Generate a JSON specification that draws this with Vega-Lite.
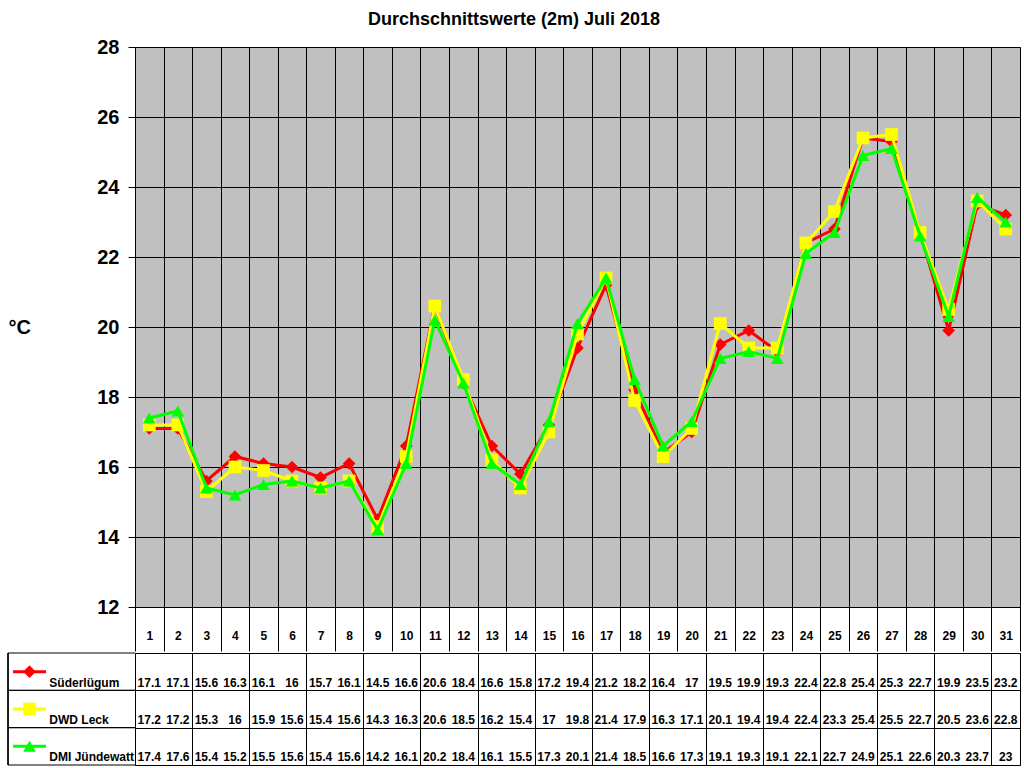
{
  "$schema": "https://vega.github.io/schema/vega-lite/v6.json",
  "padding": {"left": 7, "top": 10, "right": 5, "bottom": 0},
  "background": "white",
  "config": {"font": "Liberation Sans"},
  "title": {"text": "Durchschnittswerte (2m) Juli 2018", "anchor": "middle", "fontSize": 18, "fontWeight": "bold", "color": "black", "offset": 8},
  "spacing": 0,
  "datasets": {
    "temps": [
      {"day":1,"series":"Süderlügum","temp":17.1},{"day":2,"series":"Süderlügum","temp":17.1},{"day":3,"series":"Süderlügum","temp":15.6},{"day":4,"series":"Süderlügum","temp":16.3},{"day":5,"series":"Süderlügum","temp":16.1},{"day":6,"series":"Süderlügum","temp":16},{"day":7,"series":"Süderlügum","temp":15.7},{"day":8,"series":"Süderlügum","temp":16.1},{"day":9,"series":"Süderlügum","temp":14.5},{"day":10,"series":"Süderlügum","temp":16.6},{"day":11,"series":"Süderlügum","temp":20.6},{"day":12,"series":"Süderlügum","temp":18.4},{"day":13,"series":"Süderlügum","temp":16.6},{"day":14,"series":"Süderlügum","temp":15.8},{"day":15,"series":"Süderlügum","temp":17.2},{"day":16,"series":"Süderlügum","temp":19.4},{"day":17,"series":"Süderlügum","temp":21.2},{"day":18,"series":"Süderlügum","temp":18.2},{"day":19,"series":"Süderlügum","temp":16.4},{"day":20,"series":"Süderlügum","temp":17},{"day":21,"series":"Süderlügum","temp":19.5},{"day":22,"series":"Süderlügum","temp":19.9},{"day":23,"series":"Süderlügum","temp":19.3},{"day":24,"series":"Süderlügum","temp":22.4},{"day":25,"series":"Süderlügum","temp":22.8},{"day":26,"series":"Süderlügum","temp":25.4},{"day":27,"series":"Süderlügum","temp":25.3},{"day":28,"series":"Süderlügum","temp":22.7},{"day":29,"series":"Süderlügum","temp":19.9},{"day":30,"series":"Süderlügum","temp":23.5},{"day":31,"series":"Süderlügum","temp":23.2},
      {"day":1,"series":"DWD Leck","temp":17.2},{"day":2,"series":"DWD Leck","temp":17.2},{"day":3,"series":"DWD Leck","temp":15.3},{"day":4,"series":"DWD Leck","temp":16},{"day":5,"series":"DWD Leck","temp":15.9},{"day":6,"series":"DWD Leck","temp":15.6},{"day":7,"series":"DWD Leck","temp":15.4},{"day":8,"series":"DWD Leck","temp":15.6},{"day":9,"series":"DWD Leck","temp":14.3},{"day":10,"series":"DWD Leck","temp":16.3},{"day":11,"series":"DWD Leck","temp":20.6},{"day":12,"series":"DWD Leck","temp":18.5},{"day":13,"series":"DWD Leck","temp":16.2},{"day":14,"series":"DWD Leck","temp":15.4},{"day":15,"series":"DWD Leck","temp":17},{"day":16,"series":"DWD Leck","temp":19.8},{"day":17,"series":"DWD Leck","temp":21.4},{"day":18,"series":"DWD Leck","temp":17.9},{"day":19,"series":"DWD Leck","temp":16.3},{"day":20,"series":"DWD Leck","temp":17.1},{"day":21,"series":"DWD Leck","temp":20.1},{"day":22,"series":"DWD Leck","temp":19.4},{"day":23,"series":"DWD Leck","temp":19.4},{"day":24,"series":"DWD Leck","temp":22.4},{"day":25,"series":"DWD Leck","temp":23.3},{"day":26,"series":"DWD Leck","temp":25.4},{"day":27,"series":"DWD Leck","temp":25.5},{"day":28,"series":"DWD Leck","temp":22.7},{"day":29,"series":"DWD Leck","temp":20.5},{"day":30,"series":"DWD Leck","temp":23.6},{"day":31,"series":"DWD Leck","temp":22.8},
      {"day":1,"series":"DMI Jündewatt","temp":17.4},{"day":2,"series":"DMI Jündewatt","temp":17.6},{"day":3,"series":"DMI Jündewatt","temp":15.4},{"day":4,"series":"DMI Jündewatt","temp":15.2},{"day":5,"series":"DMI Jündewatt","temp":15.5},{"day":6,"series":"DMI Jündewatt","temp":15.6},{"day":7,"series":"DMI Jündewatt","temp":15.4},{"day":8,"series":"DMI Jündewatt","temp":15.6},{"day":9,"series":"DMI Jündewatt","temp":14.2},{"day":10,"series":"DMI Jündewatt","temp":16.1},{"day":11,"series":"DMI Jündewatt","temp":20.2},{"day":12,"series":"DMI Jündewatt","temp":18.4},{"day":13,"series":"DMI Jündewatt","temp":16.1},{"day":14,"series":"DMI Jündewatt","temp":15.5},{"day":15,"series":"DMI Jündewatt","temp":17.3},{"day":16,"series":"DMI Jündewatt","temp":20.1},{"day":17,"series":"DMI Jündewatt","temp":21.4},{"day":18,"series":"DMI Jündewatt","temp":18.5},{"day":19,"series":"DMI Jündewatt","temp":16.6},{"day":20,"series":"DMI Jündewatt","temp":17.3},{"day":21,"series":"DMI Jündewatt","temp":19.1},{"day":22,"series":"DMI Jündewatt","temp":19.3},{"day":23,"series":"DMI Jündewatt","temp":19.1},{"day":24,"series":"DMI Jündewatt","temp":22.1},{"day":25,"series":"DMI Jündewatt","temp":22.7},{"day":26,"series":"DMI Jündewatt","temp":24.9},{"day":27,"series":"DMI Jündewatt","temp":25.1},{"day":28,"series":"DMI Jündewatt","temp":22.6},{"day":29,"series":"DMI Jündewatt","temp":20.3},{"day":30,"series":"DMI Jündewatt","temp":23.7},{"day":31,"series":"DMI Jündewatt","temp":23}
    ],
    "series": [{"series":"Süderlügum"},{"series":"DWD Leck"},{"series":"DMI Jündewatt"}]
  },
  "vconcat": [
    {
      "width": 885,
      "height": 560,
      "view": {"fill": "#C0C0C0", "stroke": "#808080"},
      "data": {"name": "temps"},
      "encoding": {
        "x": {"field": "day", "type": "ordinal", "scale": {"paddingInner": 0, "paddingOuter": 0},
          "axis": {"title": null, "tickBand": "extent", "grid": true, "gridColor": "black", "gridOpacity": 1, "tickSize": 44, "tickColor": "black", "domain": true, "domainColor": "black", "labelAngle": 0, "labelFontSize": 12, "labelFontWeight": "bold", "labelColor": "black", "labelPadding": -16, "labelBaseline": "middle", "labelOverlap": false}},
        "y": {"field": "temp", "type": "quantitative", "scale": {"domain": [12, 28], "nice": false, "zero": false},
          "axis": {"values": [12,14,16,18,20,22,24,26,28], "title": "°C", "titleAngle": 0, "titleX": -127, "titleY": 280, "titleAlign": "left", "titleBaseline": "middle", "titleFontSize": 20, "titleFontWeight": "bold", "titleColor": "black", "labelFontSize": 20, "labelFontWeight": "bold", "labelColor": "black", "labelPadding": 9, "tickSize": 7, "tickColor": "black", "domainColor": "black", "grid": true, "gridColor": "black", "gridOpacity": 1}},
        "color": {"field": "series", "type": "nominal", "scale": {"domain": ["Süderlügum", "DWD Leck", "DMI Jündewatt"], "range": ["#FF0000", "#FFFF00", "#00FF00"]}, "legend": null}
      },
      "layer": [
        {"transform": [{"filter": "datum.series === 'Süderlügum'"}], "layer": [
          {"mark": {"type": "line", "strokeWidth": 3}},
          {"mark": {"type": "point", "filled": true, "size": 160, "opacity": 1}, "encoding": {"shape": {"field": "series", "type": "nominal", "scale": {"domain": ["Süderlügum", "DWD Leck", "DMI Jündewatt"], "range": ["diamond", "square", "triangle-up"]}, "legend": null}}}
        ]},
        {"transform": [{"filter": "datum.series === 'DWD Leck'"}], "layer": [
          {"mark": {"type": "line", "strokeWidth": 3}},
          {"mark": {"type": "point", "filled": true, "size": 160, "opacity": 1}, "encoding": {"shape": {"field": "series", "type": "nominal", "legend": null}}}
        ]},
        {"transform": [{"filter": "datum.series === 'DMI Jündewatt'"}], "layer": [
          {"mark": {"type": "line", "strokeWidth": 3}},
          {"mark": {"type": "point", "filled": true, "size": 160, "opacity": 1}, "encoding": {"shape": {"field": "series", "type": "nominal", "legend": null}}}
        ]}
      ]
    },
    {
      "width": 885,
      "height": 112,
      "view": {"fill": "white", "stroke": "black", "strokeWidth": 1},
      "layer": [
        {"data": {"name": "temps"},
         "mark": {"type": "text", "fontSize": 12, "fontWeight": "bold", "dy": 11, "color": "black"},
         "encoding": {
           "x": {"field": "day", "type": "quantitative", "scale": {"domain": [0.5, 31.5], "nice": false, "zero": false},
             "axis": {"title": null, "labels": false, "ticks": false, "domain": false, "grid": true, "gridColor": "black", "gridOpacity": 1, "values": [0.5,1.5,2.5,3.5,4.5,5.5,6.5,7.5,8.5,9.5,10.5,11.5,12.5,13.5,14.5,15.5,16.5,17.5,18.5,19.5,20.5,21.5,22.5,23.5,24.5,25.5,26.5,27.5,28.5,29.5,30.5,31.5]}},
           "y": {"field": "series", "type": "nominal", "scale": {"domain": ["Süderlügum", "DWD Leck", "DMI Jündewatt"], "paddingInner": 0, "paddingOuter": 0},
             "axis": {"title": null, "labels": false, "ticks": false, "domain": false, "grid": true, "tickBand": "extent", "gridColor": "black", "gridOpacity": 1}},
           "text": {"field": "temp", "type": "nominal"}
         }},
        {"data": {"name": "series"},
         "mark": {"type": "rule", "strokeWidth": 1, "color": "black"},
         "encoding": {"x": {"datum": -3.948}}},
        {"data": {"name": "series"},
         "mark": {"type": "rule", "strokeWidth": 1, "color": "black"},
         "encoding": {"x": {"datum": -3.948}, "x2": {"datum": 0.5}, "y": {"field": "series", "type": "nominal", "bandPosition": 0}}},
        {"data": {"name": "series"},
         "mark": {"type": "rule", "strokeWidth": 1, "color": "black"},
         "encoding": {"x": {"datum": -3.948}, "x2": {"datum": 0.5}, "y": {"field": "series", "type": "nominal", "bandPosition": 1}}},
        {"data": {"name": "series"},
         "mark": {"type": "rule", "strokeWidth": 3},
         "encoding": {"x": {"datum": -3.773}, "x2": {"datum": -2.617}, "y": {"field": "series", "type": "nominal"}, "color": {"field": "series", "type": "nominal", "legend": null}}},
        {"data": {"name": "series"},
         "mark": {"type": "point", "filled": true, "size": 160, "opacity": 1},
         "encoding": {"x": {"datum": -3.195}, "y": {"field": "series", "type": "nominal"}, "color": {"field": "series", "type": "nominal", "legend": null}, "shape": {"field": "series", "type": "nominal", "legend": null}}},
        {"data": {"name": "series"},
         "mark": {"type": "text", "fontSize": 12, "fontWeight": "bold", "align": "left", "dy": 11, "color": "black"},
         "encoding": {"x": {"datum": -2.5}, "y": {"field": "series", "type": "nominal"}, "text": {"field": "series", "type": "nominal"}}}
      ]
    }
  ]
}
